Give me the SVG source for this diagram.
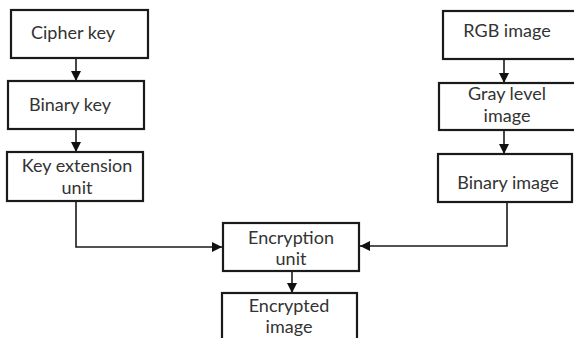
<svg xmlns="http://www.w3.org/2000/svg" width="574" height="338" viewBox="0 0 574 338">
<defs>
<style>
.box{fill:#fff;stroke:#1a1a1a;stroke-width:2.2}
.t{font-family:Lato,"Open Sans","Liberation Sans",sans-serif;font-size:18px;fill:#333;text-anchor:middle}
.c{fill:none;stroke:#1a1a1a;stroke-width:1.6}
</style>
<marker id="ah" viewBox="0 0 10 10" refX="10" refY="5" markerWidth="11" markerHeight="10" markerUnits="userSpaceOnUse" orient="auto">
<path d="M0,0 L10,5 L0,10 z" fill="#111"/>
</marker>
</defs>
<rect width="574" height="338" fill="#fff"/>
<g id="connectors">
<line class="c" x1="76" y1="58" x2="76" y2="81" marker-end="url(#ah)"/>
<line class="c" x1="76" y1="129" x2="76" y2="152" marker-end="url(#ah)"/>
<polyline class="c" points="76,201 76,247 222,247" marker-end="url(#ah)"/>
<line class="c" x1="504" y1="59" x2="504" y2="83" marker-end="url(#ah)"/>
<line class="c" x1="504" y1="130" x2="504" y2="154" marker-end="url(#ah)"/>
<polyline class="c" points="507,202 507,246 360,246" marker-end="url(#ah)"/>
<line class="c" x1="292" y1="271" x2="292" y2="293" marker-end="url(#ah)"/>
</g>
<g id="cipher-key">
<rect class="box" x="11" y="10" width="137" height="48"/>
<text class="t" x="73" y="39">Cipher key</text>
</g>
<g id="binary-key">
<rect class="box" x="8" y="81" width="136" height="48"/>
<text class="t" x="70" y="111">Binary key</text>
</g>
<g id="key-extension">
<rect class="box" x="7" y="152" width="136" height="49"/>
<text class="t" x="77" y="172">Key extension</text>
<text class="t" x="77" y="194">unit</text>
</g>
<g id="rgb-image">
<rect class="box" x="443" y="11" width="134" height="48"/>
<text class="t" x="507" y="37">RGB image</text>
</g>
<g id="gray-level">
<rect class="box" x="439" y="83" width="138" height="47"/>
<text class="t" x="507" y="100">Gray level</text>
<text class="t" x="507" y="122">image</text>
</g>
<g id="binary-image">
<rect class="box" x="438" y="154" width="134" height="48"/>
<text class="t" x="508" y="189">Binary image</text>
</g>
<g id="encryption-unit">
<rect class="box" x="223" y="223" width="136" height="48"/>
<text class="t" x="291" y="244">Encryption</text>
<text class="t" x="291" y="265">unit</text>
</g>
<g id="encrypted-image">
<rect class="box" x="222" y="293" width="135" height="60"/>
<text class="t" x="289" y="312">Encrypted</text>
<text class="t" x="289" y="333">image</text>
</g>
</svg>
